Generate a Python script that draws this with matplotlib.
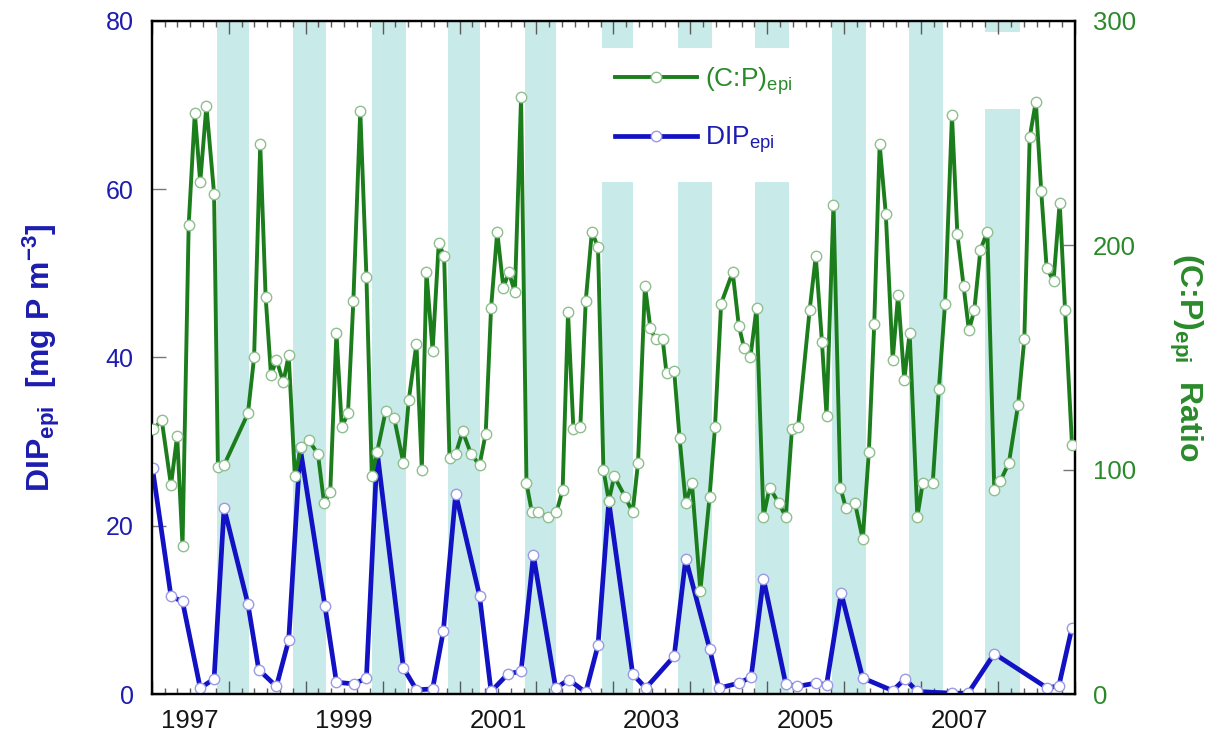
import matplotlib
matplotlib.use("Agg")
from matplotlib import pyplot as plt
from matplotlib.patches import Rectangle
from matplotlib.ticker import MultipleLocator

plt.rcParams['font.family'] = ['Liberation Sans', 'DejaVu Sans']
plt.rcParams['mathtext.fontset'] = 'custom'
plt.rcParams['mathtext.rm'] = 'Liberation Sans'
plt.rcParams['mathtext.it'] = 'Liberation Sans:italic'
plt.rcParams['mathtext.bf'] = 'Liberation Sans:bold'

# epilimnion C:P ratio (right axis), decimal year
cp_time = [1997.02, 1997.13, 1997.25, 1997.33, 1997.40, 1997.48, 1997.56, 1997.63, 1997.71, 1997.81,
           1997.86, 1997.94, 1998.25, 1998.33, 1998.41, 1998.48, 1998.55, 1998.62, 1998.71, 1998.78,
           1998.86, 1998.94, 1999.04, 1999.16, 1999.24, 1999.32, 1999.40, 1999.47, 1999.55, 1999.62,
           1999.71, 1999.79, 1999.86, 1999.93, 2000.04, 2000.15, 2000.27, 2000.34, 2000.44, 2000.51,
           2000.57, 2000.65, 2000.73, 2000.80, 2000.87, 2000.95, 2001.04, 2001.15, 2001.26, 2001.34,
           2001.41, 2001.49, 2001.57, 2001.64, 2001.72, 2001.80, 2001.87, 2001.94, 2002.02, 2002.15,
           2002.26, 2002.34, 2002.41, 2002.48, 2002.57, 2002.64, 2002.72, 2002.80, 2002.87, 2002.94,
           2003.01, 2003.15, 2003.25, 2003.32, 2003.41, 2003.48, 2003.55, 2003.64, 2003.69, 2003.79,
           2003.86, 2003.94, 2004.02, 2004.13, 2004.25, 2004.32, 2004.40, 2004.55, 2004.63, 2004.70,
           2004.78, 2004.86, 2004.95, 2005.03, 2005.15, 2005.24, 2005.32, 2005.40, 2005.55, 2005.63,
           2005.71, 2005.77, 2005.86, 2005.95, 2006.02, 2006.14, 2006.24, 2006.32, 2006.39, 2006.46,
           2006.54, 2006.63, 2006.70, 2006.78, 2006.85, 2006.95, 2007.02, 2007.15, 2007.23, 2007.31,
           2007.40, 2007.47, 2007.55, 2007.62, 2007.69, 2007.77, 2007.86, 2007.95, 2008.03, 2008.14,
           2008.26, 2008.34, 2008.41, 2008.49, 2008.56, 2008.63, 2008.72, 2008.80, 2008.87, 2008.96]
cp_ratio = [118, 122, 93, 115, 66, 209, 259, 228, 262, 223,
            101, 102, 125, 150, 245, 177, 142, 149, 139, 151,
            97, 110, 113, 107, 85, 90, 161, 119, 125, 175,
            260, 186, 97, 108, 126, 123, 103, 131, 156, 100,
            188, 153, 201, 195, 105, 107, 117, 107, 102, 116,
            172, 206, 181, 188, 179, 266, 94, 81, 81, 79,
            81, 91, 170, 118, 119, 175, 206, 199, 100, 86,
            97, 88, 81, 103, 182, 163, 158, 158, 143, 144,
            114, 85, 94, 46, 88, 119, 174, 188, 164, 154,
            150, 172, 79, 92, 85, 79, 118, 119, 171, 195,
            157, 124, 218, 92, 83, 85, 69, 108, 165, 245,
            214, 149, 178, 140, 161, 79, 94, 94, 136, 174,
            258, 205, 182, 162, 171, 198, 206, 91, 95, 103,
            129, 158, 248, 264, 224, 190, 184, 219, 171, 111]

# epilimnion dissolved inorganic phosphorus (left axis)
dip_time = [1997.01, 1997.25, 1997.40, 1997.63, 1997.81, 1997.94, 1998.25, 1998.39, 1998.62, 1998.78,
            1998.93, 1999.25, 1999.40, 1999.63, 1999.79, 1999.93, 2000.27, 2000.44, 2000.65, 2000.79,
            2000.95, 2001.26, 2001.41, 2001.63, 2001.80, 2001.96, 2002.25, 2002.42, 2002.64, 2002.80,
            2002.94, 2003.25, 2003.42, 2003.79, 2003.94, 2004.25, 2004.37, 2004.63, 2004.79, 2004.95,
            2005.24, 2005.39, 2005.63, 2005.77, 2005.96, 2006.24, 2006.63, 2006.79, 2006.95, 2007.40,
            2007.61, 2007.95, 2008.64, 2008.79, 2008.96]
dip_conc = [26.8, 11.6, 11.0, 0.7, 1.8, 22.1, 10.7, 2.9, 0.9, 6.4,
            29.2, 10.5, 1.4, 1.2, 1.9, 28.8, 3.1, 0.5, 0.6, 7.5,
            23.8, 11.7, 0.3, 2.4, 2.7, 16.5, 0.7, 1.7, 0.2, 5.8,
            22.9, 2.4, 0.7, 4.5, 16.1, 5.4, 0.7, 1.3, 2.0, 13.7,
            1.2, 0.9, 1.3, 1.1, 12.0, 1.9, 0.4, 1.8, 0.3, 0.1,
            0.1, 4.8, 0.7, 1.0, 7.9]

# winter periods shaded in the background
winter_start = [1997.85, 1998.83, 1999.86, 2000.85, 2001.85, 2002.85, 2003.84, 2004.84, 2005.84, 2006.84, 2007.83]
winter_end = [1998.27, 1999.27, 2000.30, 2001.27, 2002.26, 2003.25, 2004.28, 2005.28, 2006.28, 2007.28, 2008.28]

year_labels = ['1997', '1999', '2001', '2003', '2005', '2007']

blue = '#1212c4'
green = '#1c7d1c'
blue_text = '#1c1cb0'
green_text = '#2a8a2a'
band = '#c8ebe9'

fig = plt.figure(figsize=(12.13, 7.38), dpi=100)
ax = fig.add_axes([0.1251, 0.0596, 0.7612, 0.9123])
ax2 = ax.twinx()

for s, e in zip(winter_start, winter_end):
    ax.axvspan(s, e, color=band, lw=0, zorder=0)

# blank areas behind the legend and the top right corner
ax.add_patch(Rectangle((0.478, 0.761), 0.245, 0.199, transform=ax.transAxes,
                       fc='white', ec='none', zorder=0.5))
ax.add_patch(Rectangle((0.895, 0.869), 0.07, 0.114, transform=ax.transAxes,
                       fc='white', ec='none', zorder=0.5))

dip_line, = ax.plot(dip_time, dip_conc, color=blue, lw=3.4, marker='o', ms=7.5,
                    mfc='white', mec='#9a9ae6', mew=1, zorder=3,
                    label=r'DIP$_\mathrm{epi}$')
cp_line, = ax2.plot(cp_time, cp_ratio, color=green, lw=2.8, marker='o', ms=7.5,
                    mfc='white', mec='#8fbf8f', mew=1, zorder=3,
                    label=r'(C:P)$_\mathrm{epi}$')

ax.set_xlim(1997, 2009)
ax.set_ylim(0, 80)
ax2.set_ylim(0, 300)

ax.xaxis.set_major_locator(MultipleLocator(1))
ax.xaxis.set_minor_locator(MultipleLocator(1 / 6))
ax.tick_params(axis='x', which='both', direction='in', top=True, bottom=True,
               labelbottom=False, color='#5a5a5a', width=1)
ax.tick_params(axis='x', which='major', length=9.5)
ax.tick_params(axis='x', which='minor', length=4.5)

ax.set_yticks([0, 20, 40, 60, 80])
ax.tick_params(axis='y', direction='in', length=10, width=1, color='#777777',
               labelsize=18, labelcolor=blue_text, pad=13)
ax2.set_yticks([0, 100, 200, 300])
ax2.tick_params(axis='y', direction='in', length=8.5, width=1, color='#777777',
                labelsize=18.5, labelcolor=green_text, pad=13)

# year labels centred on each year
sec = ax.secondary_xaxis('bottom')
sec.set_xticks([int(y) + 0.5 for y in year_labels], labels=year_labels)
sec.tick_params(length=0, pad=11, labelsize=18.5, labelcolor='#151515')
sec.spines['bottom'].set_visible(False)

for a in (ax, ax2):
    for sp in a.spines.values():
        sp.set_linewidth(1.6)
        sp.set_color('black')

ax.set_ylabel(r'DIP$_\mathbf{epi}$  [mg P m$^\mathbf{-3}$]', fontsize=23, fontweight='bold',
              color=blue_text, rotation=90, va='center', ha='center')
ax.yaxis.set_label_coords(-0.120, 0.5)
ax2.set_ylabel(r'(C:P)$_\mathbf{epi}$  Ratio', fontsize=23, fontweight='bold',
               color=green_text, rotation=270, va='center', ha='center')
ax2.yaxis.set_label_coords(1.120, 0.5)

leg = ax2.legend(handles=[cp_line, dip_line], loc='upper left', bbox_to_anchor=(0.502, 0.934),
                 frameon=False, fontsize=19, handlelength=3.1, handletextpad=0.3,
                 labelspacing=1.05, borderpad=0, borderaxespad=0)
leg.get_texts()[0].set_color(green_text)
leg.get_texts()[1].set_color(blue_text)

fig.savefig('out.png', dpi=100)
